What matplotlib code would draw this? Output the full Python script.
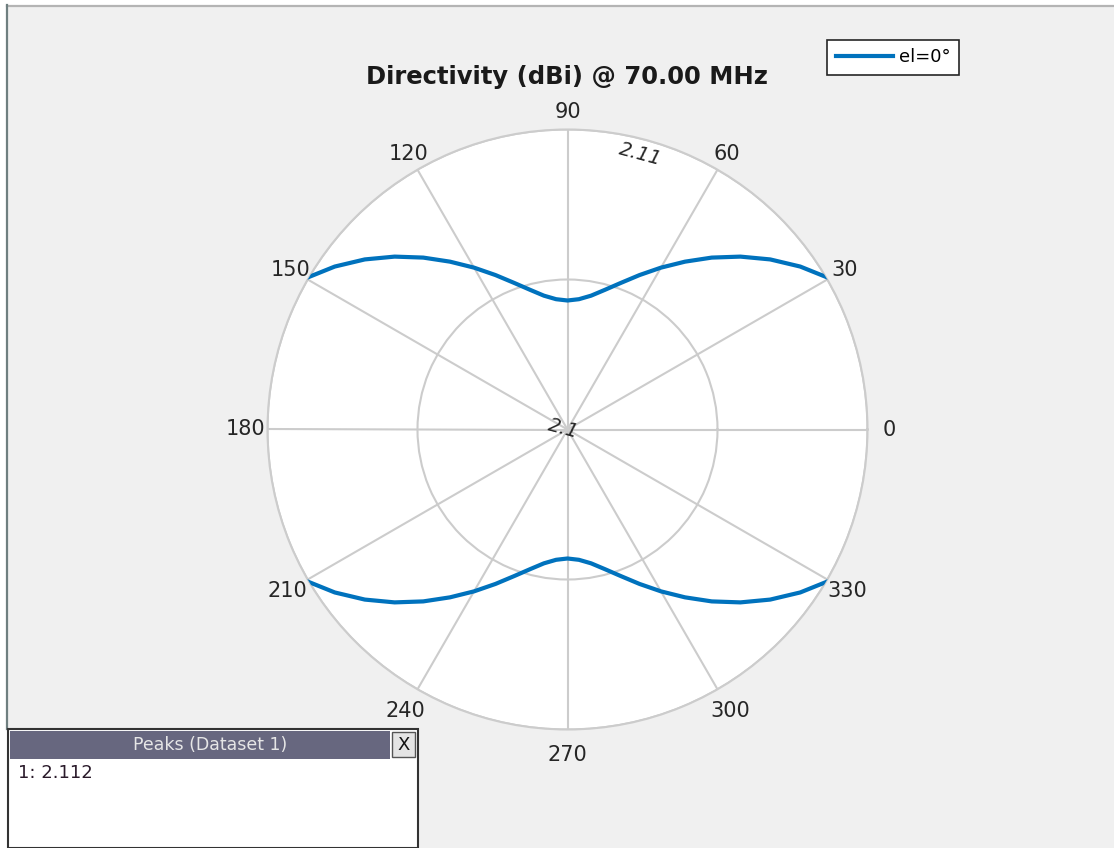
import numpy as np
import matplotlib.pyplot as plt
from matplotlib.patches import Rectangle
from matplotlib.lines import Line2D

# directivity (dBi), every 5 deg from 0 to 355
angles_deg = list(range(0, 360, 5))
directivity = [
    2.11200, 2.11194, 2.11177, 2.11148, 2.11110, 2.11062, 2.11008, 2.10947, 2.10882, 2.10815,
    2.10748, 2.10683, 2.10623, 2.10568, 2.10520, 2.10482, 2.10453, 2.10436, 2.10430,
    2.10436, 2.10453, 2.10482, 2.10520, 2.10568, 2.10623, 2.10683, 2.10748, 2.10815,
    2.10882, 2.10947, 2.11008, 2.11062, 2.11110, 2.11148, 2.11177, 2.11194, 2.11200,
    2.11194, 2.11177, 2.11148, 2.11110, 2.11062, 2.11008, 2.10947, 2.10882, 2.10815,
    2.10748, 2.10683, 2.10623, 2.10568, 2.10520, 2.10482, 2.10453, 2.10436, 2.10430,
    2.10436, 2.10453, 2.10482, 2.10520, 2.10568, 2.10623, 2.10683, 2.10748, 2.10815,
    2.10882, 2.10947, 2.11008, 2.11062, 2.11110, 2.11148, 2.11177, 2.11194,
]
r_min, r_max = 2.1, 2.11
theta_ticks = list(range(0, 360, 30))
peak_value = 2.112

W, H = 1114, 848


def fx(x):
    return x / W


def fy(y):
    return 1 - y / H


fig = plt.figure(figsize=(W / 100, H / 100), dpi=100, facecolor='white')

# grey window area plus its frame lines
fig.add_artist(Rectangle((fx(7), 0), 1, fy(6), transform=fig.transFigure,
                         facecolor='#f0f0f0', edgecolor='none', zorder=-10))
fig.add_artist(Line2D([fx(7), 1], [fy(5.5), fy(5.5)], transform=fig.transFigure,
                      color='#b4b4b4', lw=1.6, zorder=-5))
fig.add_artist(Line2D([fx(6.5), fx(6.5)], [fy(5), fy(729)], transform=fig.transFigure,
                      color='#6f7f80', lw=1.6, zorder=-5))

ax = fig.add_axes([fx(267.5), fy(729.5), 600 / W, 600 / H], projection='polar')
ax.set_facecolor('white')

th = np.deg2rad(angles_deg + [360])
rr = directivity + [directivity[0]]
ax.plot(th, rr, color='#0072BD', lw=3.0, label='el=0\u00b0', zorder=3)

ax.set_rlim(r_min, r_max)
ax.set_rticks([2.105, 2.11])
ax.set_yticklabels([])
ax.set_thetagrids(theta_ticks, labels=[''] * len(theta_ticks))
ax.grid(True, color='#cccccc', lw=1.5)
ax.spines['polar'].set_color('#cccccc')
ax.spines['polar'].set_linewidth(1.5)
ax.tick_params(length=0)

# angle labels outside the circle
for a in theta_ticks:
    t = np.deg2rad(a)
    off = 21.5 - 4 * np.sin(t)
    ax.annotate(str(a), xy=(t, r_max), xytext=(off * np.cos(t), off * np.sin(t)),
                textcoords='offset pixels', ha='center', va='center',
                fontsize=15, color='#262626', annotation_clip=False)

# magnitude labels
ax.text(np.deg2rad(75.2), 2.1095, '2.11', rotation=-15, style='italic',
        fontsize=14, ha='center', va='center', color='#262626')
ax.annotate('2.1', xy=(0, r_min), xytext=(-4, 1), textcoords='offset pixels',
            rotation=-15, style='italic', fontsize=14, ha='center', va='center',
            color='#262626')

fig.text(fx(567), fy(77), 'Directivity (dBi) @ 70.00 MHz', ha='center', va='center',
         fontsize=17.5, fontweight='bold', color='#1a1a1a')

leg = fig.legend(loc='center', bbox_to_anchor=(fx(893), fy(57.5)), fontsize=13,
                 frameon=True, fancybox=False, edgecolor='#262626', framealpha=1,
                 handlelength=3.2, handletextpad=0.3, borderpad=0.45, borderaxespad=0)
leg.get_frame().set_linewidth(1.2)

# peaks panel
fig.add_artist(Rectangle((fx(8), 0), fx(418) - fx(8), fy(729), transform=fig.transFigure,
                         facecolor='white', edgecolor='#333333', lw=1.5, zorder=5))
fig.add_artist(Rectangle((fx(10), fy(759)), fx(390) - fx(10), fy(731) - fy(759),
                         transform=fig.transFigure, facecolor='#67677f',
                         edgecolor='none', zorder=6))
fig.add_artist(Rectangle((fx(392), fy(757)), fx(415) - fx(392), fy(732) - fy(757),
                         transform=fig.transFigure, facecolor='#e4e4e4',
                         edgecolor='#555555', lw=1, zorder=6))
fig.text(fx(210), fy(745), 'Peaks (Dataset 1)', ha='center', va='center',
         fontsize=12.5, color='#e6e6e6', zorder=7)
fig.text(fx(403.5), fy(744.5), 'X', ha='center', va='center', fontsize=13,
         color='#111111', zorder=7)
fig.text(fx(18), fy(773), '1: %.3f' % peak_value, ha='left', va='center',
         fontsize=13, color='#2a1a2a', zorder=7)

fig.savefig('out.png', dpi=100, facecolor=fig.get_facecolor())
